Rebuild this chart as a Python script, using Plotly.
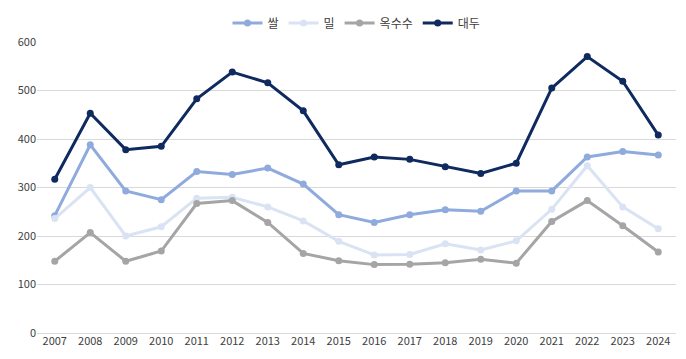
import plotly.graph_objects as go

years = [str(y) for y in range(2007, 2025)]
rice = [242, 388, 293, 275, 333, 327, 340, 307, 244, 228, 244, 254, 251, 293, 293, 363, 374, 367]
wheat = [236, 300, 200, 219, 278, 280, 260, 231, 189, 161, 162, 184, 171, 190, 255, 345, 260, 215]
corn = [148, 207, 148, 169, 267, 273, 228, 164, 149, 141, 142, 145, 152, 144, 230, 273, 221, 167]
soy = [317, 453, 378, 385, 483, 538, 516, 458, 347, 363, 358, 343, 329, 350, 505, 570, 519, 408]

series = [
    ("쌀", rice, "#8FAADC"),
    ("밀", wheat, "#DAE3F3"),
    ("옥수수", corn, "#A5A5A5"),
    ("대두", soy, "#0F2A5E"),
]

fig = go.Figure()
for name, vals, color in series:
    fig.add_trace(go.Scatter(
        x=years, y=vals, name=name, mode="lines+markers",
        line=dict(color=color, width=3),
        marker=dict(color=color, size=7),
    ))

fig.update_layout(
    width=686, height=359,
    margin=dict(l=29, r=18, t=34, b=34, autoexpand=False),
    paper_bgcolor="white", plot_bgcolor="white",
    font=dict(family="Noto Sans CJK KR, sans-serif", size=11, color="#404040"),
    legend=dict(orientation="h", x=0.5, xanchor="center", y=1.115, yanchor="top",
                font=dict(size=12, color="#404040"), itemwidth=30, tracegroupgap=0),
    xaxis=dict(type="category", range=[-0.5, 17.5], showgrid=False, showline=False,
               ticks="", tickfont=dict(size=11, color="#404040")),
    yaxis=dict(range=[0, 600], dtick=100, showgrid=True, gridcolor="#D9D9D9", gridwidth=1,
               zeroline=True, zerolinecolor="#D9D9D9", zerolinewidth=1, showline=False,
               ticks="", tickfont=dict(size=11, color="#404040")),
)

fig.write_html("out.html")
